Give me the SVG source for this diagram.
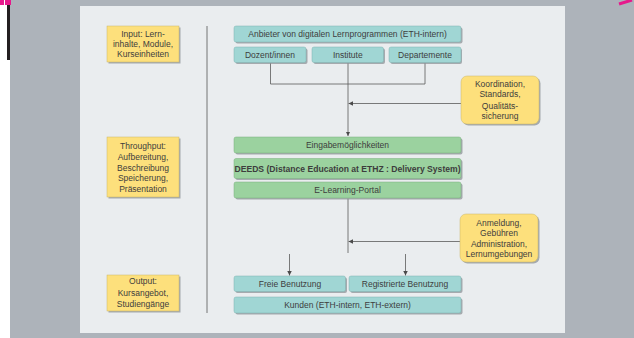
<svg xmlns="http://www.w3.org/2000/svg" width="634" height="338" viewBox="0 0 634 338">
<style>
.sh{fill:#8e9398;opacity:0.75}
.y{fill:#fde07c;stroke:#c9b66a;stroke-width:0.5}
.t{fill:#a0d6d4;stroke:#7fb3b1;stroke-width:0.5}
.g{fill:#9bd29f;stroke:#79ae7d;stroke-width:0.5}
text{font-family:"Liberation Sans",Arial,sans-serif;font-size:8.5px;fill:#3d3d3d;text-anchor:middle}
.b{font-weight:bold;font-size:8.8px}
.ln{fill:none;stroke:#5a5a5a;stroke-width:0.8}
</style>
<defs>
<marker id="ah" viewBox="0 0 6 6" refX="6" refY="3" markerWidth="4.5" markerHeight="4.5" markerUnits="userSpaceOnUse" orient="auto">
<path d="M0,0 L6,3 L0,6 Z" fill="#4a4a4a"/>
</marker>
</defs>
<rect x="0" y="0" width="634" height="338" fill="#ffffff"/>
<rect x="10" y="0" width="624" height="338" fill="#adb3ba"/>
<rect x="7" y="0" width="3" height="60" fill="#231f20"/>
<rect x="0" y="0" width="4" height="5" fill="#e6198c"/>
<rect x="5" y="0" width="6" height="5" fill="#e6198c"/>
<path d="M619,4 L632,0" stroke="#e6198c" stroke-width="3" fill="none"/>
<rect x="80" y="6" width="485" height="327" fill="#eaedef"/>
<line x1="207" y1="26" x2="207" y2="313" stroke="#555" stroke-width="0.8"/>

<g id="connectors">
<path class="ln" d="M270.5,63 V84 H425 V63"/>
<path class="ln" d="M348,63 V136" marker-end="url(#ah)"/>
<path class="ln" d="M461,103.5 H348.5" marker-end="url(#ah)"/>
<path class="ln" d="M348,198.5 V253"/>
<path class="ln" d="M460,241.5 H348.5" marker-end="url(#ah)"/>
<path class="ln" d="M289.5,254 V275.5" marker-end="url(#ah)"/>
<path class="ln" d="M405.5,254 V275.5" marker-end="url(#ah)"/>
</g>

<g id="input">
<rect class="sh" x="108.5" y="27.5" width="72" height="36"/>
<rect class="y" x="107" y="26" width="72" height="36"/>
<text x="143" y="37">Input: Lern-</text>
<text x="143" y="47.3">inhalte, Module,</text>
<text x="143" y="57.4">Kurseinheiten</text>
</g>
<g id="throughput">
<rect class="sh" x="108.5" y="138.5" width="72" height="60"/>
<rect class="y" x="107" y="137" width="72" height="60"/>
<text x="143" y="149">Throughput:</text>
<text x="143" y="159.8">Aufbereitung,</text>
<text x="143" y="170.6">Beschreibung</text>
<text x="143" y="181.3">Speicherung,</text>
<text x="143" y="192">Präsentation</text>
</g>
<g id="output">
<rect class="sh" x="108.5" y="276.5" width="72" height="36"/>
<rect class="y" x="107" y="275" width="72" height="36"/>
<text x="143" y="284">Output:</text>
<text x="143" y="295.8">Kursangebot,</text>
<text x="143" y="307.2">Studiengänge</text>
</g>

<g id="anbieter">
<rect class="sh" x="235.5" y="27.5" width="227" height="16" rx="2"/>
<rect class="t" x="234" y="26" width="227" height="16" rx="2"/>
<text x="347.5" y="37">Anbieter von digitalen Lernprogrammen (ETH-intern)</text>
</g>
<g id="dozent">
<rect class="sh" x="235.5" y="48.5" width="72" height="15.5" rx="2"/>
<rect class="t" x="234" y="47" width="72" height="15.5" rx="2"/>
<text x="270" y="57.9">Dozent/innen</text>
</g>
<g id="institute">
<rect class="sh" x="313.5" y="48.5" width="71.5" height="15.5" rx="2"/>
<rect class="t" x="312" y="47" width="71.5" height="15.5" rx="2"/>
<text x="347.8" y="57.9">Institute</text>
</g>
<g id="departemente">
<rect class="sh" x="390.5" y="48.5" width="71.5" height="15.5" rx="2"/>
<rect class="t" x="389" y="47" width="72" height="15.5" rx="2"/>
<text x="425" y="57.9">Departemente</text>
</g>

<g id="koordination">
<rect class="sh" x="462.5" y="77.5" width="78" height="48" rx="6"/>
<rect class="y" x="461" y="76" width="78" height="48" rx="6"/>
<text x="500" y="87.3">Koordination,</text>
<text x="500" y="97.3">Standards,</text>
<text x="500" y="109">Qualitäts-</text>
<text x="500" y="119">sicherung</text>
</g>

<g id="eingabe">
<rect class="sh" x="235.5" y="138.5" width="227" height="16" rx="2"/>
<rect class="g" x="234" y="137" width="227" height="16" rx="2"/>
<text x="347.5" y="148.1">Eingabemöglichkeiten</text>
</g>
<g id="deeds">
<rect class="sh" x="235.5" y="160" width="227" height="20" rx="2"/>
<rect class="g" x="234" y="158.5" width="227" height="20" rx="2"/>
<text class="b" x="347.5" y="171.8" textLength="226" lengthAdjust="spacingAndGlyphs">DEEDS (Distance Education at ETHZ : Delivery System)</text>
</g>
<g id="portal">
<rect class="sh" x="235.5" y="183.5" width="227" height="16" rx="2"/>
<rect class="g" x="234" y="182" width="227" height="16" rx="2"/>
<text x="347.5" y="193.2">E-Learning-Portal</text>
</g>

<g id="anmeldung">
<rect class="sh" x="461.5" y="215.5" width="78" height="48" rx="6"/>
<rect class="y" x="460" y="214" width="78" height="48" rx="6"/>
<text x="499" y="226.3">Anmeldung,</text>
<text x="499" y="236.3">Gebühren</text>
<text x="499" y="246.7">Administration,</text>
<text x="499" y="257">Lernumgebungen</text>
</g>

<g id="freie">
<rect class="sh" x="235.5" y="277.5" width="111.5" height="15.5" rx="2"/>
<rect class="t" x="234" y="276" width="111.5" height="15.5" rx="2"/>
<text x="290" y="286.9">Freie Benutzung</text>
</g>
<g id="registrierte">
<rect class="sh" x="350.5" y="277.5" width="112" height="15.5" rx="2"/>
<rect class="t" x="349" y="276" width="112" height="15.5" rx="2"/>
<text x="405" y="286.9">Registrierte Benutzung</text>
</g>
<g id="kunden">
<rect class="sh" x="235.5" y="298.5" width="227" height="16" rx="2"/>
<rect class="t" x="234" y="297" width="227" height="16" rx="2"/>
<text x="347.5" y="308.1">Kunden (ETH-intern, ETH-extern)</text>
</g>
</svg>
